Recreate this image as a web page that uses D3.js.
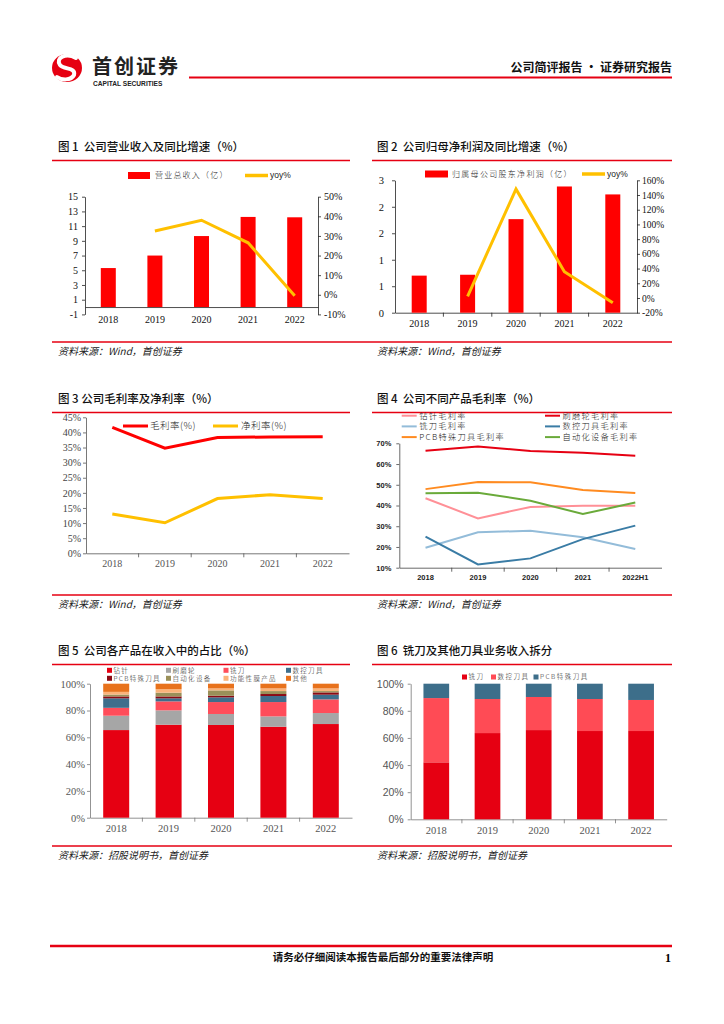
<!DOCTYPE html>
<html>
<head>
<meta charset="utf-8">
<script src="https://cdn.jsdelivr.net/npm/d3@7.9.0/dist/d3.min.js"></script>
<style>
  body { margin: 0; background: #fff; }
  svg { display: block; }
</style>
</head>
<body>
<script>
// ---- data ----
const years = ['2018', '2019', '2020', '2021', '2022'];
const revenue = [5.3, 7.0, 9.65, 12.25, 12.2];          // 营业总收入（亿）
const revenueYoy = [null, 32.5, 38, 26.5, -0.5];        // yoy%
const netProfit = [0.84, 0.86, 2.12, 2.86, 2.68];       // 归属母公司股东净利润（亿）
const netProfitYoy = [null, 2.3, 148, 35.8, -6.4];
const revTicks = [-1, 1, 3, 5, 7, 9, 11, 13, 15];
const revYoyTicks = [-10, 0, 10, 20, 30, 40, 50];
const profitTicks = [0, 0.6, 1.2, 1.8, 2.4, 3];
const profitYoyTicks = [-20, 0, 20, 40, 60, 80, 100, 120, 140, 160];

const grossMargin = [41.7, 34.8, 38.3, 38.5, 38.6];     // 毛利率(%)
const netMargin = [13.0, 10.1, 18.1, 19.4, 18.1];       // 净利率(%)
const marginTicks = [0, 5, 10, 15, 20, 25, 30, 35, 40, 45];

const productYears = ['2018', '2019', '2020', '2021', '2022H1'];
const productNames = ['钻针毛利率', '刷磨轮毛利率', '铣刀毛利率', '数控刀具毛利率', 'PCB特殊刀具毛利率', '自动化设备毛利率'];
const drillMargin = [43.5, 33.8, 39.3, 39.9, 39.9];
const brushMargin = [66.4, 68.5, 66.3, 65.5, 64.0];
const millMargin = [19.6, 27.1, 27.8, 24.7, 19.0];
const cncMargin = [25.0, 11.6, 14.5, 23.8, 30.3];
const pcbMargin = [47.9, 51.3, 51.2, 47.5, 46.0];
const autoMargin = [45.9, 46.2, 42.3, 35.9, 41.4];
const productTicks = [10, 20, 30, 40, 50, 60, 70];

const shareNames = ['钻针', '刷磨轮', '铣刀', '数控刀具', 'PCB特殊刀具', '自动化设备', '功能性膜产品', '其他'];
const shareDrill = [65.4, 69.4, 69.2, 67.9, 69.9];
const shareBrush = [10.7, 10.7, 8.2, 7.7, 8.2];
const shareMill = [5.9, 6.7, 8.9, 10.7, 10.2];
const shareCnc = [7.1, 2.3, 3.5, 4.5, 3.5];
const sharePcb = [1.4, 1.4, 1.2, 1.5, 1.7];
const shareAuto = [1.4, 2.8, 4.0, 2.2, 1.0];
const shareFilm = [2.0, 2.7, 1.5, 2.0, 2.0];
const shareOther = [6.1, 4.0, 3.5, 3.5, 3.5];

const toolNames = ['铣刀', '数控刀具', 'PCB特殊刀具'];
const toolMill = [42.0, 63.6, 65.8, 65.1, 65.1];
const toolCnc = [47.4, 25.1, 24.4, 23.6, 22.9];
const toolPcb = [10.6, 11.3, 9.8, 11.3, 12.0];
const pctTicks = [0, 20, 40, 60, 80, 100];

// ---- page ----
const CJK = '"Noto Sans CJK SC", sans-serif';
const SERIF = '"Liberation Serif", "DejaVu Serif", serif';
const SANS = '"Liberation Sans", Arial, sans-serif';
const RED = '#e60012';

const svg = d3.select('body').append('svg').attr('width', 724).attr('height', 1024);

// header
const logo = svg.append('g');
logo.append('ellipse').attr('cx', 67).attr('cy', 68).attr('rx', 15).attr('ry', 14).attr('fill', RED);
logo.append('path')
  .attr('d', 'M76,58 C66,52 55,58 60,65 C64,70 76,67 74,75 C71,81 61,80 57,77')
  .attr('fill', 'none').attr('stroke', '#fff').attr('stroke-width', 4).attr('stroke-linecap', 'round');
svg.append('text').attr('x', 92).attr('y', 74).text('首创证券')
  .attr('font-family', CJK).attr('font-weight', 700).attr('font-size', 20).attr('fill', '#222')
  .attr('letter-spacing', 2);
svg.append('text').attr('x', 93).attr('y', 85.5).text('CAPITAL SECURITIES')
  .attr('font-family', SANS).attr('font-weight', 700).attr('font-size', 6.6).attr('fill', '#222');
svg.append('line').attr('x1', 189).attr('x2', 672).attr('y1', 77.5).attr('y2', 77.5)
  .attr('stroke', RED).attr('stroke-width', 2);
svg.append('text').attr('x', 672).attr('y', 72).attr('text-anchor', 'end')
  .text('公司简评报告 · 证券研究报告')
  .attr('font-family', CJK).attr('font-weight', 600).attr('font-size', 12).attr('fill', '#111');

// footer
svg.append('line').attr('x1', 50).attr('x2', 672).attr('y1', 946).attr('y2', 946)
  .attr('stroke', RED).attr('stroke-width', 2.5);
svg.append('text').attr('x', 383).attr('y', 961).attr('text-anchor', 'middle')
  .text('请务必仔细阅读本报告最后部分的重要法律声明')
  .attr('font-family', CJK).attr('font-weight', 700).attr('font-size', 10.5).attr('fill', '#111');
svg.append('text').attr('x', 671).attr('y', 962).attr('text-anchor', 'end').text('1')
  .attr('font-family', SERIF).attr('font-weight', 700).attr('font-size', 12);

// titles, rules and sources
function title(x, y, lineX1, lineX2, txt) {
  svg.append('text').attr('x', x).attr('y', y).text(txt)
    .attr('font-family', CJK).attr('font-size', 11.5).attr('font-weight', 500).attr('fill', '#111');
  svg.append('line').attr('x1', lineX1).attr('x2', lineX2).attr('y1', y + 9.5).attr('y2', y + 9.5)
    .attr('stroke', RED).attr('stroke-width', 1.5);
}
function source(y, txt1, txt2) {
  svg.append('line').attr('x1', 52).attr('x2', 672).attr('y1', y).attr('y2', y)
    .attr('stroke', RED).attr('stroke-width', 1.5);
  [[58, txt1], [377, txt2]].forEach(([x, t]) => {
    svg.append('text').attr('x', x).attr('y', y + 13).text(t)
      .attr('font-family', CJK).attr('font-style', 'italic').attr('font-size', 10).attr('fill', '#222');
  });
}
const sp = '\u00a0';
title(58, 151, 52, 350, `图${sp}1${sp}${sp}公司营业收入及同比增速（%）`);
title(377, 151, 372, 672, `图${sp}2${sp}${sp}公司归母净利润及同比增速（%）`);
title(58, 403, 52, 350, `图${sp}3${sp}公司毛利率及净利率（%）`);
title(377, 403, 372, 672, `图${sp}4${sp}${sp}公司不同产品毛利率（%）`);
title(58, 655, 52, 350, `图${sp}5${sp}${sp}公司各产品在收入中的占比（%）`);
title(377, 655, 372, 672, `图${sp}6${sp}${sp}铣刀及其他刀具业务收入拆分`);
source(342, '资料来源：Wind，首创证券', '资料来源：Wind，首创证券');
source(595, '资料来源：Wind，首创证券', '资料来源：Wind，首创证券');
source(846, '资料来源：招股说明书，首创证券', '资料来源：招股说明书，首创证券');

function styleAxis(g, font, size, color, stroke, weight) {
  g.attr('font-family', null).attr('font-size', null);
  g.selectAll('text').attr('font-family', font).attr('font-size', size).attr('fill', color)
    .attr('font-weight', weight || 400);
  g.selectAll('path, line').attr('stroke', stroke).attr('stroke-width', 0.8);
}
function bandTicks(x, y, color) {
  x.domain().slice(1).forEach(d => {
    svg.append('line').attr('x1', x(d)).attr('x2', x(d)).attr('y1', y).attr('y2', y + 4)
      .attr('stroke', color).attr('stroke-width', 0.8);
  });
}
function legText(x, y, t, size, spacing, font) {
  svg.append('text').attr('x', x).attr('y', y).attr('dy', '0.35em').text(t)
    .attr('font-family', font || CJK).attr('font-size', size).attr('letter-spacing', spacing)
    .attr('font-weight', 300).attr('fill', '#222');
}

// ---- chart 1 ----
{
  const x = d3.scaleBand().domain(years).range([85, 318]);
  const y = d3.scaleLinear().domain([-1, 15]).range([314.4, 196.7]);
  const yr = d3.scaleLinear().domain([-10, 50]).range([314.4, 196.7]);
  svg.append('g').attr('transform', 'translate(85,0)')
    .call(d3.axisLeft(y).tickValues(revTicks).tickSize(3).tickSizeOuter(0).tickPadding(4)
      .tickFormat(d => String(d)))
    .call(g => styleAxis(g, SERIF, 10, '#111', '#222'));
  svg.append('g').attr('transform', 'translate(318,0)')
    .call(d3.axisRight(yr).tickValues(revYoyTicks).tickSize(3).tickSizeOuter(0).tickPadding(3)
      .tickFormat(d => d + '%'))
    .call(g => styleAxis(g, SERIF, 10, '#111', '#222'));
  svg.append('g').attr('transform', `translate(0,${y(0)})`)
    .call(d3.axisBottom(x).tickSize(0).tickPadding(9))
    .call(g => styleAxis(g, SERIF, 10, '#111', '#222'));
  svg.append('g').selectAll('rect').data(revenue).join('rect')
    .attr('x', (d, i) => x(years[i]) + x.bandwidth() / 2 - 7.5).attr('width', 15)
    .attr('y', d => y(d)).attr('height', d => y(0) - y(d)).attr('fill', '#ff0000');
  svg.append('path').datum(revenueYoy.map((v, i) => [years[i], v]))
    .attr('d', d3.line().defined(d => d[1] != null)
      .x(d => x(d[0]) + x.bandwidth() / 2).y(d => yr(d[1])))
    .attr('fill', 'none').attr('stroke', '#ffc000').attr('stroke-width', 3);
  svg.append('rect').attr('x', 128).attr('y', 172).attr('width', 22).attr('height', 7).attr('fill', '#ff0000');
  legText(155, 175.5, '营业总收入（亿）', 8, 1.2);
  svg.append('line').attr('x1', 245).attr('x2', 268).attr('y1', 175.5).attr('y2', 175.5)
    .attr('stroke', '#ffc000').attr('stroke-width', 3.5);
  legText(270, 175.5, 'yoy%', 8.5, 0, SANS);
}

// ---- chart 2 ----
{
  const x = d3.scaleBand().domain(years).range([395, 637]);
  const y = d3.scaleLinear().domain([0, 3]).range([312.7, 180.3]);
  const yr = d3.scaleLinear().domain([-20, 160]).range([312.7, 180.3]);
  svg.append('g').attr('transform', 'translate(395,0)')
    .call(d3.axisLeft(y).tickValues(profitTicks).tickSize(3).tickSizeOuter(0).tickPadding(8)
      .tickFormat(d3.format('.0f')))
    .call(g => styleAxis(g, SERIF, 10.5, '#111', '#222'));
  svg.append('g').attr('transform', 'translate(637,0)')
    .call(d3.axisRight(yr).tickValues(profitYoyTicks).tickSize(3).tickSizeOuter(0).tickPadding(2)
      .tickFormat(d => d + '%'))
    .call(g => styleAxis(g, SERIF, 9.5, '#111', '#222'));
  svg.append('g').attr('transform', `translate(0,${y(0)})`)
    .call(d3.axisBottom(x).tickSize(0).tickPadding(7))
    .call(g => styleAxis(g, SERIF, 10, '#111', '#222'));
  bandTicks(x, y(0), '#222');
  svg.append('g').selectAll('rect').data(netProfit).join('rect')
    .attr('x', (d, i) => x(years[i]) + x.bandwidth() / 2 - 7.5).attr('width', 15)
    .attr('y', d => y(d)).attr('height', d => y(0) - y(d)).attr('fill', '#ff0000');
  svg.append('path').datum(netProfitYoy.map((v, i) => [years[i], v]))
    .attr('d', d3.line().defined(d => d[1] != null)
      .x(d => x(d[0]) + x.bandwidth() / 2).y(d => yr(d[1])))
    .attr('fill', 'none').attr('stroke', '#ffc000').attr('stroke-width', 3);
  svg.append('rect').attr('x', 425).attr('y', 170.5).attr('width', 23).attr('height', 7).attr('fill', '#ff0000');
  legText(452, 174, '归属母公司股东净利润（亿）', 8, 1.3);
  svg.append('line').attr('x1', 582).attr('x2', 605).attr('y1', 174).attr('y2', 174)
    .attr('stroke', '#ffc000').attr('stroke-width', 3.5);
  legText(607, 174, 'yoy%', 8.5, 0, SANS);
}

// ---- chart 3 ----
{
  const x = d3.scaleBand().domain(years).range([86, 349]);
  const y = d3.scaleLinear().domain([0, 45]).range([553.3, 417.3]);
  svg.append('g').attr('transform', 'translate(86,0)')
    .call(d3.axisLeft(y).tickValues(marginTicks).tickSize(3).tickSizeOuter(0).tickPadding(2)
      .tickFormat(d => d + '%'))
    .call(g => styleAxis(g, SERIF, 10, '#444', '#555'));
  svg.append('g').attr('transform', `translate(0,${y(0)})`)
    .call(d3.axisBottom(x).tickSize(0).tickPadding(7))
    .call(g => styleAxis(g, SERIF, 10, '#555', '#555'));
  bandTicks(x, y(0), '#555');
  const line = d3.line().x((d, i) => x(years[i]) + x.bandwidth() / 2).y(d => y(d));
  svg.append('path').datum(grossMargin).attr('d', line)
    .attr('fill', 'none').attr('stroke', '#ff0000').attr('stroke-width', 3);
  svg.append('path').datum(netMargin).attr('d', line)
    .attr('fill', 'none').attr('stroke', '#ffc000').attr('stroke-width', 3);
  svg.append('line').attr('x1', 123).attr('x2', 148).attr('y1', 426).attr('y2', 426)
    .attr('stroke', '#ff0000').attr('stroke-width', 3);
  legText(150, 426, '毛利率(%)', 9.5, 0.5);
  svg.append('line').attr('x1', 213).attr('x2', 238).attr('y1', 426).attr('y2', 426)
    .attr('stroke', '#ffc000').attr('stroke-width', 3);
  legText(241, 426, '净利率(%)', 9.5, 0.5);
}

// ---- chart 4 ----
{
  const series = [drillMargin, brushMargin, millMargin, cncMargin, pcbMargin, autoMargin];
  const colors = ['#ff9097', '#e60012', '#93bcd9', '#3a7ca5', '#ff8b20', '#6aaa3a'];
  const x = d3.scaleBand().domain(productYears).range([399.3, 661.5]);
  const y = d3.scaleLinear().domain([10, 70]).range([567.7, 443.3]);
  svg.append('g').attr('transform', 'translate(399.3,0)')
    .call(d3.axisLeft(y).tickValues(productTicks).tickSize(3).tickSizeOuter(0).tickPadding(5)
      .tickFormat(d => d + '%'))
    .call(g => styleAxis(g, SANS, 7.5, '#222', '#444', 700));
  svg.append('g').attr('transform', `translate(0,${y(10)})`)
    .call(d3.axisBottom(x).tickSize(0).tickPadding(7))
    .call(g => styleAxis(g, SANS, 7.5, '#222', '#444', 700));
  bandTicks(x, y(10), '#444');
  const line = d3.line().x((d, i) => x(productYears[i]) + x.bandwidth() / 2).y(d => y(d));
  series.forEach((s, k) => {
    svg.append('path').datum(s).attr('d', line)
      .attr('fill', 'none').attr('stroke', colors[k]).attr('stroke-width', 2);
  });
  productNames.forEach((n, k) => {
    const col = k % 2, row = Math.floor(k / 2);
    const lx = col === 0 ? 401.7 : 545, ly = 415.7 + row * 10.7;
    svg.append('line').attr('x1', lx).attr('x2', lx + 15).attr('y1', ly).attr('y2', ly)
      .attr('stroke', colors[k]).attr('stroke-width', 2);
    legText(lx + 17.5, ly, n, 8.2, 1.3);
  });
}

// ---- stacked bars ----
function stackedChart(opts) {
  const { cats, names, arrays, colors, x0, x1, yBottom, yTop, barW, yFont, ySize, yPad } = opts;
  const rows = cats.map((c, i) => {
    const r = { cat: c };
    names.forEach((n, k) => { r[n] = arrays[k][i]; });
    return r;
  });
  const stacked = d3.stack().keys(names)(rows);
  const x = d3.scaleBand().domain(cats).range([x0, x1]);
  const y = d3.scaleLinear().domain([0, 100]).range([yBottom, yTop]);
  svg.append('g').attr('transform', `translate(${x0},0)`)
    .call(d3.axisLeft(y).tickValues(pctTicks).tickSize(3).tickSizeOuter(0).tickPadding(yPad)
      .tickFormat(d => d + '%'))
    .call(g => styleAxis(g, yFont, ySize, '#555', '#777'));
  svg.append('g').attr('transform', `translate(0,${yBottom})`)
    .call(d3.axisBottom(x).tickSize(0).tickPadding(7))
    .call(g => styleAxis(g, SERIF, 10.5, '#555', '#777'));
  bandTicks(x, yBottom, '#777');
  stacked.forEach((layer, k) => {
    svg.append('g').attr('fill', colors[k]).selectAll('rect').data(layer).join('rect')
      .attr('x', d => x(d.data.cat) + x.bandwidth() / 2 - barW / 2).attr('width', barW)
      .attr('y', d => y(d[1])).attr('height', d => y(d[0]) - y(d[1]));
  });
}

const shareColors = ['#e60012', '#a6a6a6', '#ff4d5a', '#3e6e8c', '#8b0a14', '#9a9059', '#fbb37a', '#e8721c'];
stackedChart({
  cats: years, names: shareNames,
  arrays: [shareDrill, shareBrush, shareMill, shareCnc, sharePcb, shareAuto, shareFilm, shareOther],
  colors: shareColors,
  x0: 90, x1: 352, yBottom: 817.7, yTop: 683.7, barW: 26, yFont: SERIF, ySize: 10.5, yPad: 2
});
{
  const xs = [109.5, 168.5, 226, 288.5];
  shareNames.forEach((n, k) => {
    const lx = xs[k % 4], ly = 670.3 + Math.floor(k / 4) * 8;
    svg.append('rect').attr('x', lx - 2.5).attr('y', ly - 2.5).attr('width', 5).attr('height', 5)
      .attr('fill', shareColors[k]);
    legText(lx + 4, ly, n, 6.5, 1.3);
  });
}

const toolColors = ['#e60012', '#ff4b55', '#3d6e8a'];
stackedChart({
  cats: years, names: toolNames,
  arrays: [toolMill, toolCnc, toolPcb],
  colors: toolColors,
  x0: 410.7, x1: 666.7, yBottom: 819.3, yTop: 683.7, barW: 25.7, yFont: SANS, ySize: 10.5, yPad: 4
});
{
  const xs = [464.5, 493.5, 536];
  toolNames.forEach((n, k) => {
    svg.append('rect').attr('x', xs[k] - 2.5).attr('y', 674.5).attr('width', 5).attr('height', 5)
      .attr('fill', toolColors[k]);
    legText(xs[k] + 4, 677, n, 6.5, 1.5);
  });
}
</script>
</body>
</html>
